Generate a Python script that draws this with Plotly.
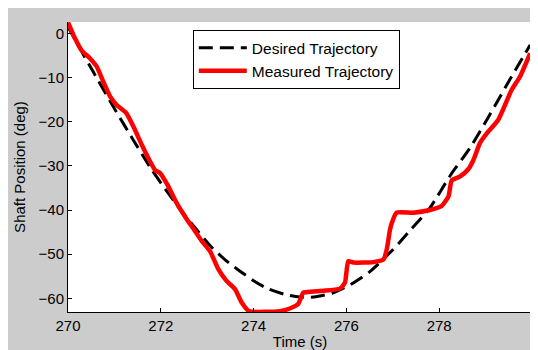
import plotly.graph_objects as go

# Desired trajectory
t_desired = [270.00, 270.30, 270.55, 271.00, 271.40, 271.80, 272.10, 272.40, 272.80,
             273.10, 273.40, 273.70, 274.00, 274.30, 274.70, 275.00, 275.30, 275.70,
             276.10, 276.50, 277.00, 277.40, 277.80, 278.25, 278.66, 279.09, 279.52, 279.96]
y_desired = [1.5, -4.2, -8.8, -17.0, -24.0, -30.8, -35.3, -39.6, -44.8,
             -48.5, -51.4, -53.8, -56.0, -57.8, -59.2, -59.7, -59.7, -58.8,
             -56.8, -54.0, -49.0, -44.3, -39.5, -32.0, -26.0, -18.4, -10.5, -2.6]

# Measured trajectory
t_measured = [270.00, 270.15, 270.29, 270.47, 270.62, 270.76, 270.91, 271.05, 271.26,
              271.41, 271.59, 271.77, 271.88, 271.98, 272.16, 272.34, 272.56, 272.74,
              272.88, 273.06, 273.24, 273.42, 273.60, 273.74, 273.90, 274.57, 274.78,
              274.96, 275.07, 275.14, 275.50, 275.86, 275.97, 276.04, 276.15, 276.58,
              276.80, 276.87, 276.94, 276.98, 277.08, 277.44, 277.80, 278.05, 278.20,
              278.27, 278.45, 278.63, 278.74, 278.88, 279.06, 279.27, 279.56, 279.74, 279.96]
y_measured = [2.5, -1.1, -3.8, -5.6, -7.5, -10.9, -14.3, -16.2, -18.1,
              -21.1, -25.2, -29.0, -31.0, -31.6, -34.6, -38.4, -42.1, -44.8,
              -47.0, -49.3, -53.4, -56.1, -57.9, -60.9, -62.9, -62.9, -62.3,
              -61.3, -58.7, -58.6, -58.3, -57.8, -56.4, -51.6, -51.9, -51.8,
              -51.2, -48.9, -44.4, -42.9, -40.6, -40.6, -40.0, -39.1, -36.9,
              -33.3, -32.4, -30.7, -28.6, -24.8, -22.2, -19.6, -12.8, -9.8, -4.5]

x_ticks = [270, 272, 274, 276, 278]
y_ticks = [0, -10, -20, -30, -40, -50, -60]

FONT = "Liberation Sans, Arial, Helvetica, sans-serif"

fig = go.Figure()
fig.add_trace(go.Scatter(x=t_desired, y=y_desired, mode="lines", name="Desired Trajectory",
                         line=dict(color="black", width=3, dash="14px,7px",
                                   shape="spline", smoothing=0.6)))
fig.add_trace(go.Scatter(x=t_measured, y=y_measured, mode="lines", name="Measured Trajectory",
                         line=dict(color="#ff0000", width=4.5, shape="spline", smoothing=0.5)))

axis_common = dict(showgrid=False, zeroline=False, showline=True, linecolor="black",
                   linewidth=1, ticks="inside", ticklen=4, tickcolor="black",
                   tickfont=dict(family=FONT, size=15, color="black"), mirror=False)

fig.update_xaxes(range=[270, 280], tickvals=x_ticks, ticktext=[str(v) for v in x_ticks],
                 title=dict(text="Time (s)", font=dict(family=FONT, size=15, color="black"), standoff=3),
                 automargin=False, **axis_common)
fig.update_yaxes(range=[-63.1, 2.6], tickvals=y_ticks,
                 title=dict(text="Shaft Position (deg)", font=dict(family=FONT, size=15, color="black"), standoff=9),
                 automargin=False, **axis_common)

fig.update_layout(
    width=530, height=342,
    margin=dict(l=60, r=6, t=14, b=38),
    paper_bgcolor="#cccccc", plot_bgcolor="white",
    font=dict(family=FONT, size=15, color="black"),
    showlegend=True,
    legend=dict(x=0.269, y=0.972, xanchor="left", yanchor="top",
                bgcolor="white", bordercolor="black", borderwidth=1,
                font=dict(family=FONT, size=15.5, color="black"),
                itemwidth=48, tracegroupgap=0),
)

fig.write_html("out.html")
